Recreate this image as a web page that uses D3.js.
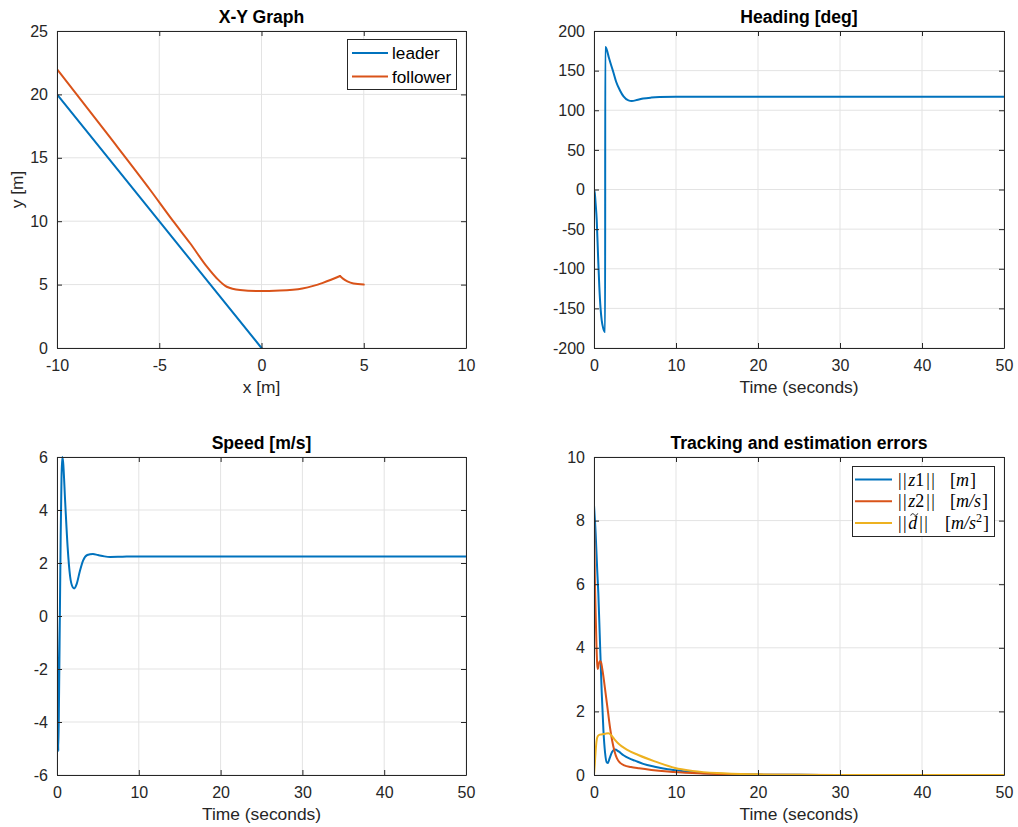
<!DOCTYPE html>
<html>
<head>
<meta charset="utf-8">
<script src="https://cdn.jsdelivr.net/npm/d3@7"></script>
<style>
  html, body { margin: 0; padding: 0; background: #fff; }
  svg { display: block; }
  text { font-family: "Liberation Sans", Arial, Helvetica, sans-serif; fill: #262626; }
</style>
</head>
<body>
<svg id="fig" width="1018" height="827"></svg>
<script>
// ---- X-Y trajectory (metres) ----
const leaderX = [0, -10];
const leaderY = [0, 20];
// follower path, ordered by x; the cusp sits at index cuspIndex
const followerX = [-10.0, -7.5, -5.44, -4.3, -3.49, -2.67, -2.19, -1.7, -1.05, -0.16, 0.9, 2.0, 2.53, 3.0, 3.4, 3.84, 4.0, 4.2, 4.5, 5.0];
const followerY = [22.0, 16.8, 12.46, 9.96, 8.26, 6.41, 5.5, 4.83, 4.57, 4.49, 4.53, 4.7, 4.9, 5.14, 5.38, 5.68, 5.45, 5.25, 5.08, 5.0];
const cuspIndex = 15;

// ---- Heading [deg] vs time ----
const headingT = [0, 0.1, 0.2, 0.33, 0.5, 0.65, 0.8, 0.94, 1.1, 1.25, 1.36, 1.37, 1.45, 1.6, 1.8, 2.0, 2.36, 2.7, 3.17, 3.6, 4.2, 4.6, 5.2, 6, 7, 8, 10, 20, 30, 40, 50];
const headingV = [0, -5, -18, -38, -85, -123, -150, -165, -174, -178.5, -179.8, 179.8, 179, 175, 167, 160, 148, 136, 125, 117.5, 112.5, 111.8, 112.8, 114.8, 116, 116.6, 117, 117, 117, 117, 117];

// ---- Speed [m/s] vs time ----
const speedT = [0, 0.05, 0.1, 0.16, 0.25, 0.35, 0.45, 0.55, 0.65, 0.75, 1.0, 1.3, 1.6, 1.9, 2.1, 2.4, 2.8, 3.2, 3.7, 4.4, 5, 5.8, 6.5, 8, 10, 20, 30, 40, 50];
const speedV = [0, -1.5, -3.5, -5.1, -3.0, 0, 3.0, 5.2, 6.0, 5.8, 4.3, 2.6, 1.5, 1.1, 1.04, 1.2, 1.7, 2.1, 2.3, 2.34, 2.3, 2.25, 2.23, 2.24, 2.25, 2.25, 2.25, 2.25, 2.25];

// ---- Tracking / estimation error norms vs time ----
const z1T = [0, 0.2, 0.4, 0.53, 0.7, 0.94, 1.15, 1.35, 1.55, 1.7, 1.9, 2.2, 2.56, 3.0, 3.6, 4.3, 5.0, 6, 7.4, 9, 10, 12, 15, 20, 25, 30, 50];
const z1V = [8.49, 7.6, 6.4, 5.7, 4.4, 2.6, 1.4, 0.7, 0.4, 0.38, 0.52, 0.72, 0.8, 0.74, 0.62, 0.52, 0.45, 0.35, 0.26, 0.18, 0.15, 0.09, 0.04, 0.012, 0.004, 0.001, 0];
const z2T = [0, 0.05, 0.1, 0.2, 0.3, 0.4, 0.47, 0.55, 0.7, 0.85, 1.0, 1.2, 1.4, 1.7, 1.95, 2.2, 2.5, 2.8, 3.2, 3.7, 4.5, 5.5, 7, 9, 12, 15, 20, 30, 50];
const z2V = [8.07, 7.3, 6.3, 5.1, 4.1, 3.45, 3.33, 3.45, 3.58, 3.55, 3.35, 3.0, 2.6, 2.0, 1.5, 1.1, 0.75, 0.52, 0.38, 0.3, 0.25, 0.21, 0.16, 0.11, 0.06, 0.03, 0.01, 0.001, 0];
const dT = [0, 0.1, 0.2, 0.3, 0.45, 0.7, 1.0, 1.4, 1.75, 2.1, 2.5, 3.0, 3.4, 4, 5.4, 7.4, 9.9, 12, 15, 20, 25, 30, 50];
const dV = [0, 0.35, 0.75, 1.05, 1.22, 1.27, 1.28, 1.3, 1.31, 1.25, 1.12, 0.98, 0.9, 0.8, 0.63, 0.43, 0.22, 0.13, 0.06, 0.02, 0.007, 0.002, 0];

// ---- Axis ticks ----
const xyXTicks = [-10, -5, 0, 5, 10];
const xyYTicks = [0, 5, 10, 15, 20, 25];
const timeTicks = [0, 10, 20, 30, 40, 50];
const headingTicks = [-200, -150, -100, -50, 0, 50, 100, 150, 200];
const speedTicks = [-6, -4, -2, 0, 2, 4, 6];
const errorTicks = [0, 2, 4, 6, 8, 10];

const C1 = "#0072BD", C2 = "#D95319", C3 = "#EDB120";
const svg = d3.select("#fig");
const plainNum = d => String(d);

function panel(o) {
  const g = svg.append("g");
  const x = d3.scaleLinear().domain(o.xDomain).range([o.left, o.right]);
  const y = d3.scaleLinear().domain(o.yDomain).range([o.bottom, o.top]);
  // grid
  g.append("g").selectAll("line").data(o.xTicks).join("line")
    .attr("x1", d => x(d)).attr("x2", d => x(d))
    .attr("y1", o.top).attr("y2", o.bottom)
    .attr("stroke", "#e3e3e3").attr("stroke-width", 1);
  g.append("g").selectAll("line").data(o.yTicks).join("line")
    .attr("y1", d => y(d)).attr("y2", d => y(d))
    .attr("x1", o.left).attr("x2", o.right)
    .attr("stroke", "#e3e3e3").attr("stroke-width", 1);
  // curves
  const clipId = "clip" + Math.round(o.left) + "_" + Math.round(o.top);
  g.append("clipPath").attr("id", clipId).append("rect")
    .attr("x", o.left).attr("y", o.top - 2).attr("width", o.right - o.left).attr("height", o.bottom - o.top + 4);
  const lg = g.append("g").attr("clip-path", `url(#${clipId})`);
  o.series.forEach(s => {
    const pts = s.xs.map((v, i) => [v, s.ys[i]]);
    // optional break point: the curve is drawn as separate smooth pieces meeting there
    const pieces = s.breakAt != null ? [pts.slice(0, s.breakAt + 1), pts.slice(s.breakAt)] : [pts];
    pieces.forEach(p => {
      lg.append("path").datum(p)
        .attr("fill", "none").attr("stroke", s.color).attr("stroke-width", 2)
        .attr("stroke-linejoin", "round").attr("stroke-linecap", "round")
        .attr("d", d3.line().x(d => x(d[0])).y(d => y(d[1])).curve(s.curve || d3.curveMonotoneX));
    });
  });
  // axes (ticks inside, full box)
  const ax = d3.axisBottom(x).tickValues(o.xTicks).tickSizeInner(-5).tickSizeOuter(0).tickPadding(12).tickFormat(plainNum);
  const ay = d3.axisLeft(y).tickValues(o.yTicks).tickSizeInner(-5).tickSizeOuter(0).tickPadding(9).tickFormat(plainNum);
  const axT = d3.axisTop(x).tickValues(o.xTicks).tickSizeInner(-5).tickSizeOuter(0).tickFormat("");
  const ayR = d3.axisRight(y).tickValues(o.yTicks).tickSizeInner(-5).tickSizeOuter(0).tickFormat("");
  const styleAxis = sel => {
    sel.select(".domain").attr("stroke", "#262626");
    sel.selectAll(".tick line").attr("stroke", "#262626");
    sel.selectAll(".tick text").attr("fill", "#262626").style("font-size", "16px")
      .style("font-family", '"Liberation Sans", Arial, sans-serif');
  };
  g.append("g").attr("transform", `translate(0,${o.bottom})`).call(ax).call(styleAxis);
  g.append("g").attr("transform", `translate(${o.left},0)`).call(ay).call(styleAxis);
  g.append("g").attr("transform", `translate(0,${o.top})`).call(axT).call(styleAxis);
  g.append("g").attr("transform", `translate(${o.right},0)`).call(ayR).call(styleAxis);
  // labels
  g.append("text").attr("x", (o.left + o.right) / 2).attr("y", o.top - 8)
    .attr("text-anchor", "middle").style("font-size", "17.6px").style("font-weight", "bold")
    .style("fill", "#000").text(o.title);
  if (o.xLabel) g.append("text").attr("x", (o.left + o.right) / 2).attr("y", o.bottom + 45)
    .attr("text-anchor", "middle").style("font-size", "17.4px").text(o.xLabel);
  if (o.yLabel) g.append("text")
    .attr("transform", `translate(${o.left - 34},${(o.top + o.bottom) / 2}) rotate(-90)`)
    .attr("text-anchor", "middle").style("font-size", "17.4px").text(o.yLabel);
  return { g, x, y };
}

// X-Y graph
const p1 = panel({
  left: 57, right: 466, top: 31, bottom: 348,
  xDomain: [-10, 10], yDomain: [0, 25], xTicks: xyXTicks, yTicks: xyYTicks,
  title: "X-Y Graph", xLabel: "x [m]", yLabel: "y [m]",
  series: [
    { xs: leaderX, ys: leaderY, color: C1, curve: d3.curveLinear },
    { xs: followerX, ys: followerY, color: C2, breakAt: cuspIndex }
  ]
});
// legend for X-Y graph
{
  const lg = p1.g.append("g");
  lg.append("rect").attr("x", 347.5).attr("y", 39.5).attr("width", 109).attr("height", 50)
    .attr("fill", "#fff").attr("stroke", "#262626").attr("stroke-width", 1);
  [["leader", C1], ["follower", C2]].forEach((e, i) => {
    const yy = 53 + i * 23.5;
    lg.append("line").attr("x1", 352).attr("x2", 388).attr("y1", yy).attr("y2", yy)
      .attr("stroke", e[1]).attr("stroke-width", 2);
    lg.append("text").attr("x", 392).attr("y", yy + 6).style("font-size", "17.2px").style("fill", "#000").text(e[0]);
  });
}

// Heading
panel({
  left: 594, right: 1004, top: 31, bottom: 348,
  xDomain: [0, 50], yDomain: [-200, 200], xTicks: timeTicks, yTicks: headingTicks,
  title: "Heading [deg]", xLabel: "Time (seconds)",
  series: [{ xs: headingT, ys: headingV, color: C1 }]
});

// Speed
panel({
  left: 57, right: 466, top: 457, bottom: 775,
  xDomain: [0, 50], yDomain: [-6, 6], xTicks: timeTicks, yTicks: speedTicks,
  title: "Speed [m/s]", xLabel: "Time (seconds)",
  series: [{ xs: speedT, ys: speedV, color: C1 }]
});

// Errors
const p4 = panel({
  left: 594, right: 1004, top: 457, bottom: 775,
  xDomain: [0, 50], yDomain: [0, 10], xTicks: timeTicks, yTicks: errorTicks,
  title: "Tracking and estimation errors", xLabel: "Time (seconds)",
  series: [
    { xs: z1T, ys: z1V, color: C1 },
    { xs: z2T, ys: z2V, color: C2 },
    { xs: dT, ys: dV, color: C3 }
  ]
});
// legend for error norms (math-style labels)
{
  const lg = p4.g.append("g");
  lg.append("rect").attr("x", 852.5).attr("y", 466.5).attr("width", 142).attr("height", 70)
    .attr("fill", "#fff").attr("stroke", "#262626").attr("stroke-width", 1);
  const serif = '"Liberation Serif", "DejaVu Serif", serif';
  const entries = [
    { color: C1, name: "z", idx: "1", unit: "m" },
    { color: C2, name: "z", idx: "2", unit: "m/s" },
    { color: C3, name: "d", idx: "", tilde: true, unit: "m/s", sup: "2" }
  ];
  entries.forEach((e, i) => {
    const yy = 479.5 + i * 21.8;
    lg.append("line").attr("x1", 855).attr("x2", 892).attr("y1", yy).attr("y2", yy)
      .attr("stroke", e.color).attr("stroke-width", 2);
    const t = lg.append("text").attr("x", 898).attr("y", yy + 6)
      .style("font-family", serif).style("font-size", "18px").style("fill", "#000");
    t.append("tspan").text("|");
    t.append("tspan").attr("dx", 1.5).text("|");
    t.append("tspan").attr("dx", 1.5).style("font-style", "italic").text(e.name);
    if (e.idx) t.append("tspan").text(e.idx);
    t.append("tspan").attr("dx", 2).text("|");
    t.append("tspan").attr("dx", 1.5).text("|");
    if (e.tilde) {
      // tilde accent drawn as a small wave over the italic d
      const n = t.node();
      const a = n.getStartPositionOfChar(2).x, b = n.getEndPositionOfChar(2).x;
      const cx = (a + b) / 2 + 1.5, cy = yy - 8.5;
      lg.append("path")
        .attr("d", `M${cx - 3.5},${cy + 1} C${cx - 2.5},${cy - 1.6} ${cx - 1},${cy - 1} ${cx},${cy} S${cx + 2.5},${cy + 1.4} ${cx + 3.5},${cy - 1.2}`)
        .attr("fill", "none").attr("stroke", "#000").attr("stroke-width", 0.9);
    }
    const u = lg.append("text").attr("y", yy + 6)
      .style("font-family", serif).style("font-size", "18px").style("fill", "#000");
    if (e.sup) u.attr("x", 989).attr("text-anchor", "end");
    else u.attr("x", 950);
    u.append("tspan").text("[");
    u.append("tspan").style("font-style", "italic").text(e.unit);
    if (e.sup) u.append("tspan").attr("dy", -7).style("font-size", "12px").text(e.sup);
    u.append("tspan").attr("dy", e.sup ? 7 : 0).attr("dx", 1).text("]");
  });
}
</script>
</body>
</html>
